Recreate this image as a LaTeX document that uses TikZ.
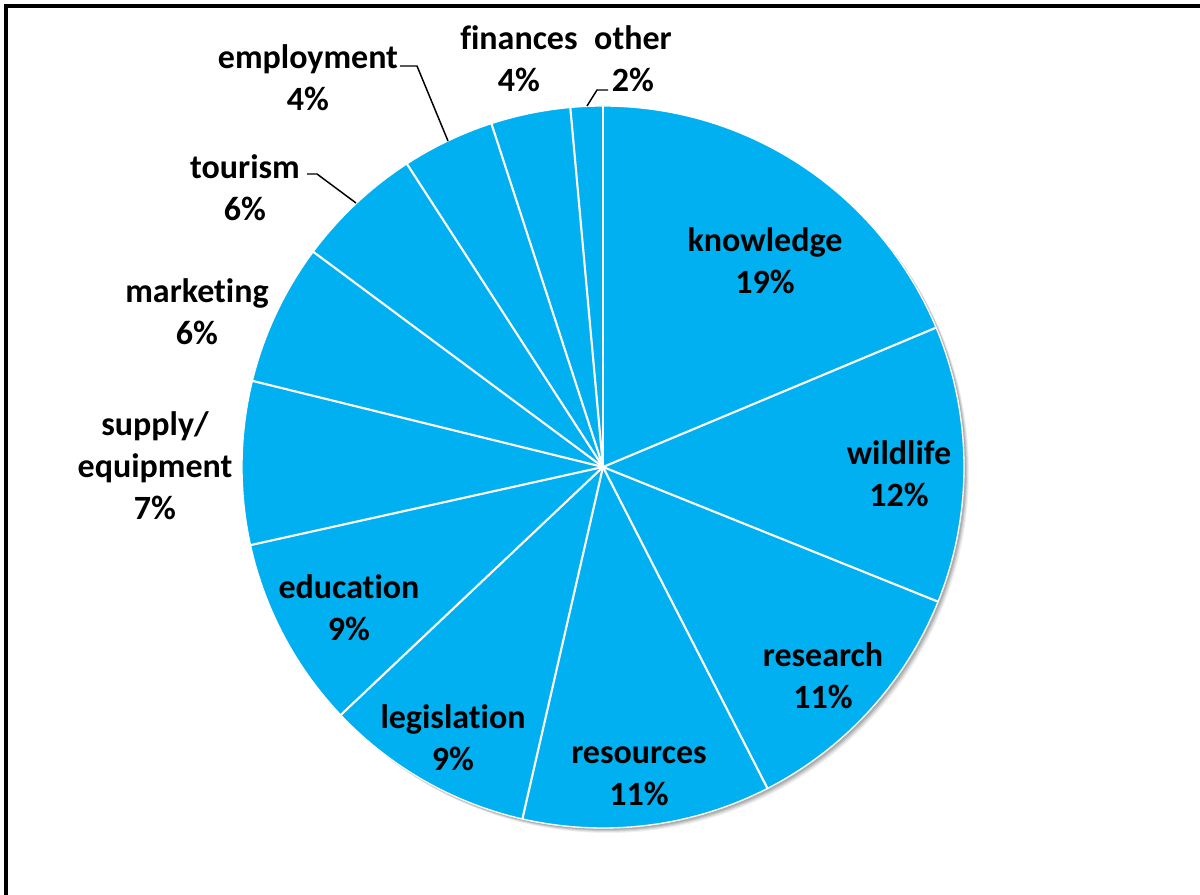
\documentclass[tikz,border=0pt]{standalone}
\usepackage{fontspec}
\setmainfont{Carlito}[Ligatures={CommonOff}]
\usetikzlibrary{calc}
\definecolor{pieblue}{RGB}{0,176,240}
\begin{document}
\begin{tikzpicture}[x=0.75pt,y=0.75pt,
  lbl/.style={align=center,font=\fontsize{25.5}{31.5}\selectfont\bfseries,text=black,inner sep=0pt},
  sep/.style={draw=white,line width=1.6pt},
  leader/.style={draw=black,line width=1.1pt},
  frame/.style={draw=black,line width=2.3pt}]
\useasboundingbox (0,0) rectangle (1200,895);
% frame (left and top edges visible)
\draw[frame] (6,-20) -- (6,889) -- (1230,889);
\coordinate (C) at (603,428);
\def\R{361}
% soft shadow
\foreach \o/\a in {5/0.06,4/0.08,3/0.10,2/0.12}{
  \fill[black,opacity=\a] ($(C)+(\o,-\o)$) circle[radius=\R];
}
% slices (math angles, clockwise from top)
\foreach \a/\b in {90/22.7, 22.7/-21.9, -21.9/-62.9, -62.9/-102.9, -102.9/-136.6, -136.6/-167.5, -167.5/-193.8, -193.8/-216.6, -216.6/-237.1, -237.1/-252.0, -252.0/-264.8, -264.8/-270}{
  \fill[pieblue] (C) -- ++(\a:\R) arc[start angle=\a, end angle=\b, radius=\R] -- cycle;
}
\draw[draw=white,line width=1pt] (C) circle[radius=\R];
\foreach \a in {90,22.7,-21.9,-62.9,-102.9,-136.6,-167.5,-193.8,-216.6,-237.1,-252.0,-264.8}{
  \draw[sep] (C) -- ++(\a:\R);
}
% labels
\node[lbl] (knowledge) at (765,634) {knowledge\\19\%};
\node[lbl] (wildlife) at (899,421) {wildlife\\12\%};
\node[lbl] (research) at (823,219) {research\\11\%};
\node[lbl] (resources) at (639,119) {resources\\11\%};
\node[lbl] (legislation) at (453,157) {legislat\kern0pt ion\\9\%};
\node[lbl] (education) at (349,287) {educat\kern0pt ion\\9\%};
\node[lbl] (supply) at (155,429) {supply/\\equipment\\7\%};
\node[lbl] (marketing) at (197,583) {market\kern0pt ing\\6\%};
\node[lbl] (tourism) at (245,707) {tourism\\6\%};
\node[lbl] (employment) at (308,817) {employment\\4\%};
\node[lbl] (finances) at (519,836) {f\kern0pt inances\\4\%};
\node[lbl] (other) at (633,836) {other\\2\%};
% leader lines
\coordinate (empA) at (400,829);
\coordinate (empB) at (417,829);
\coordinate (empC) at (448,754);
\draw[leader] (empA) -- (empB) -- (empC);
\coordinate (touA) at (307,721);
\coordinate (touB) at (317,721);
\coordinate (touC) at (356,692);
\draw[leader] (touA) -- (touB) -- (touC);
\coordinate (othA) at (608,805);
\coordinate (othB) at (597,805);
\coordinate (othC) at (587,789);
\draw[leader] (othA) -- (othB) -- (othC);
\end{tikzpicture}
\end{document}
